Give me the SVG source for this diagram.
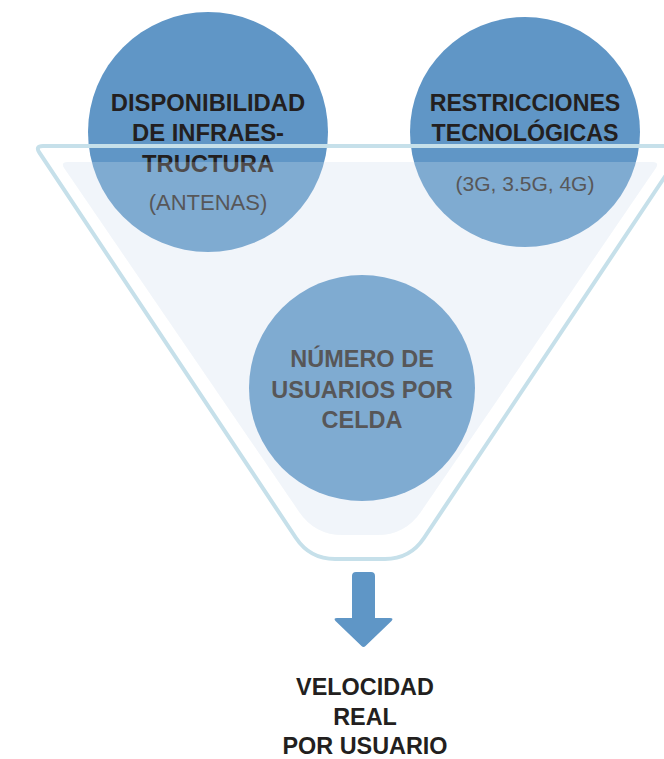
<svg xmlns="http://www.w3.org/2000/svg" width="664" height="759" viewBox="0 0 664 759">
<defs>
<style>
.t{font-family:"Liberation Sans",Arial,sans-serif;text-anchor:middle}
.b{font-weight:bold;fill:#231f20}
.r{font-weight:normal;fill:#2e2d2f}
.g{font-weight:bold;fill:#2e2d2f}
.c1{fill:#6096c6}
</style>
<path id="fillShape" d="M 68 162 L 652 162 Q 660 162 655.5 168.6 L 420.8 511.9 Q 405 535 377 535 L 343 535 Q 315 535 299.2 511.9 L 64.5 168.6 Q 60 162 68 162 Z"/>
</defs>
<rect width="664" height="759" fill="#ffffff"/>
<g id="funnel-base">
<use href="#fillShape" fill="#eef3f9"/>
</g>
<g id="node-infraestructura">
<circle class="c1" cx="208" cy="132" r="120"/>
<text class="t b" x="208" y="111" font-size="23.8">DISPONIBILIDAD</text>
<text class="t b" x="208" y="141" font-size="23.8">DE INFRAES-</text>
<text class="t b" x="208" y="172" font-size="23.8">TRUCTURA</text>
<text class="t r" x="208" y="210" font-size="22">(ANTENAS)</text>
</g>
<g id="node-restricciones">
<circle class="c1" cx="525" cy="132" r="115"/>
<text class="t b" x="525" y="111" font-size="23.2">RESTRICCIONES</text>
<text class="t b" x="525" y="141" font-size="23.2">TECNOLÓGICAS</text>
<text class="t r" x="525" y="191" font-size="21">(3G, 3.5G, 4G)</text>
</g>
<g id="node-usuarios">
<circle class="c1" cx="362" cy="388" r="113"/>
<text class="t g" x="362" y="367" font-size="23.5">NÚMERO DE</text>
<text class="t g" x="362" y="398" font-size="23.5">USUARIOS POR</text>
<text class="t g" x="362" y="428" font-size="23.5">CELDA</text>
</g>
<g id="funnel">
<use href="#fillShape" fill="#ffffff" fill-opacity="0.2"/>
<path d="M 690 146 L 43 146 Q 35 146 39.4 152.7 L 296 538 Q 310 559 335 559 L 385 559 Q 410 559 424 538 L 690 139" fill="none" stroke="#c6e0ea" stroke-width="4" stroke-linejoin="round"/>
</g>
<g id="connectors">
<path d="M 356 572 L 371 572 Q 375 572 375 576 L 375 618 L 390 618 Q 394 618 391.5 621 L 365.5 646 Q 363.5 648 361.5 646 L 335.5 621 Q 333 618 337 618 L 352 618 L 352 576 Q 352 572 356 572 Z" fill="#5f96c6"/>
</g>
<g id="node-velocidad">
<text class="t b" x="365" y="695" font-size="23.4">VELOCIDAD</text>
<text class="t b" x="365" y="725" font-size="23.4">REAL</text>
<text class="t b" x="365" y="754" font-size="23.4">POR USUARIO</text>
</g>
</svg>
